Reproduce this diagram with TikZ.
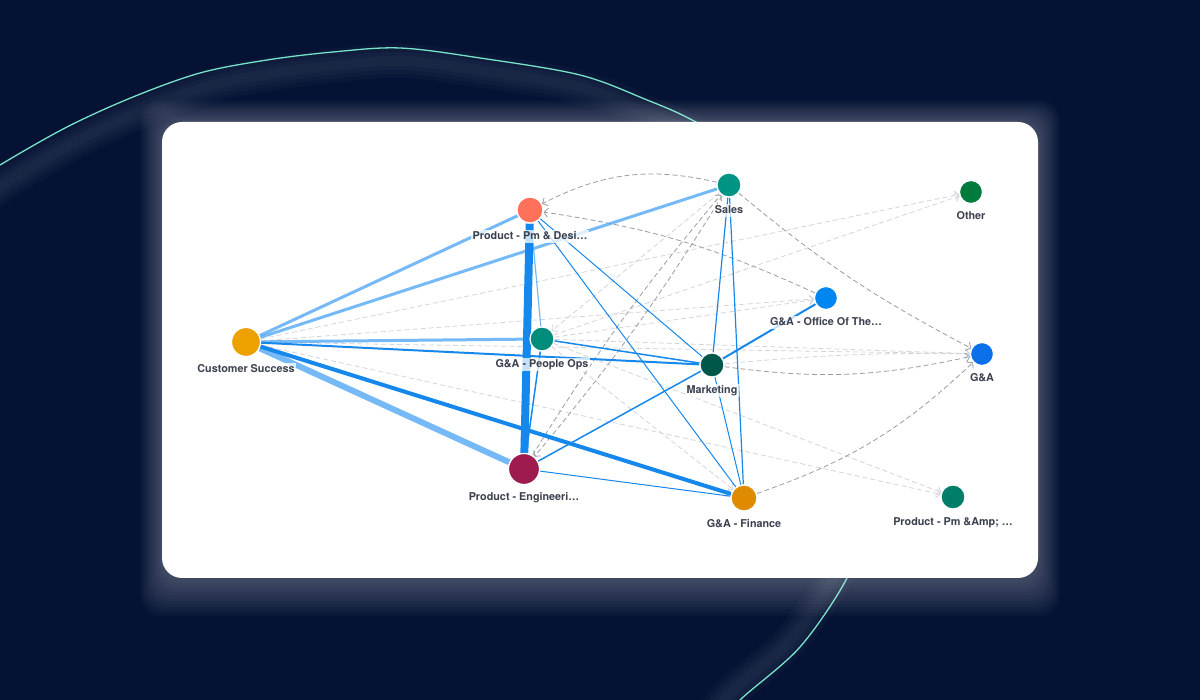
\documentclass[tikz,border=0pt]{standalone}
\usepackage{fontspec}
\setmainfont{TeX Gyre Heros}
\usetikzlibrary{arrows.meta,positioning,calc}

\definecolor{navy}{RGB}{5,18,52}
\definecolor{mint}{RGB}{118,226,200}
\definecolor{tieblue}{RGB}{22,136,235}
\definecolor{softblue}{RGB}{84,168,246}
\definecolor{flowgray}{RGB}{152,157,166}
\definecolor{flowlight}{RGB}{210,213,219}
\definecolor{labelgray}{RGB}{58,64,78}
% team colours
\definecolor{cPmd}{RGB}{255,113,90}
\definecolor{cSales}{RGB}{0,148,133}
\definecolor{cOther}{RGB}{0,122,61}
\definecolor{cOffice}{RGB}{0,134,240}
\definecolor{cGa}{RGB}{10,112,236}
\definecolor{cCs}{RGB}{236,161,0}
\definecolor{cPops}{RGB}{0,141,123}
\definecolor{cMkt}{RGB}{0,86,73}
\definecolor{cEng}{RGB}{158,27,80}
\definecolor{cFin}{RGB}{222,139,0}
\definecolor{cPma}{RGB}{0,126,106}

\newcommand{\swoosh}{plot[smooth,tension=0.55] coordinates {(-30,515) (0,535) (67,573) (133,603) (200,627) (267,640) (333,648) (400,652) (480,642) (580,625) (647,600) (692,580) (760,540) (820,460) (860,350) (870,240) (860,170) (847,122) (800,53) (740,0) (715,-30)}}

\pgfdeclarelayer{bg}
\pgfdeclarelayer{edges}
\pgfsetlayers{bg,edges,main}

\begin{document}
\begin{tikzpicture}[
		x=1pt, y=1pt,
		team/.style={circle, draw=white, line width=1.2pt, inner sep=0pt, minimum size=#1},
		teamlabel/.style={font=\bfseries\fontsize{10.8}{12}\selectfont, text=labelgray,
			fill=white, fill opacity=0.75, text opacity=1, inner sep=1.5pt,
			text height=8pt, text depth=2pt},
		tie/.style={draw=tieblue, line width=#1},
		softtie/.style={draw=softblue, line width=#1, draw opacity=0.8},
		handoff/.style={draw=flowgray, line width=0.8pt, dash pattern=on 5pt off 3pt,
			-{Straight Barb[length=4pt,width=9pt]}},
		faintoff/.style={handoff, draw=flowlight}
		]
		
		\useasboundingbox (0,0) rectangle (1200,700);
		
		% --------------------------------------------------
		% Backdrop
		% --------------------------------------------------
		\begin{pgfonlayer}{bg}
			\fill[navy] (0,0) rectangle (1200,700);
			
			% swoosh with its soft glow
			\begin{scope}[scale around={0.965:(560,280)}]
				\foreach \lw in {34,26,18,10}
				\draw[white, opacity=0.022, line width=\lw pt] \swoosh;
			\end{scope}
			\draw[mint, line width=1.3pt] \swoosh;
			
			% halo round the card
			\foreach \g in {1,...,12}
			\fill[white, opacity=0.024, rounded corners=20pt]
			({162-1.8*\g},{120-3*\g}) rectangle ({1038+1.8*\g},{578+1.8*\g});
			
			% card
			\fill[white, rounded corners=20pt] (162,122) rectangle (1038,578);
		\end{pgfonlayer}
		
		% --------------------------------------------------
		% Teams
		% --------------------------------------------------
		\node[team=26pt, fill=cPmd]    (pmd)    at (530,490) {};
		\node[team=24pt, fill=cSales]  (sales)  at (729,515) {};
		\node[team=23pt, fill=cOther]  (other)  at (971,508) {};
		\node[team=23pt, fill=cOffice] (office) at (826,402) {};
		\node[team=23pt, fill=cGa]     (ga)     at (982,346) {};
		\node[team=29pt, fill=cCs]     (cs)     at (246,358) {};
		\node[team=24pt, fill=cPops]   (pops)   at (542,361) {};
		\node[team=24pt, fill=cMkt]    (mkt)    at (712,335) {};
		\node[team=31pt, fill=cEng]    (eng)    at (524,231) {};
		\node[team=26pt, fill=cFin]    (fin)    at (744,202) {};
		\node[team=24pt, fill=cPma]    (pma)    at (953,203) {};
		
		\node[teamlabel, below=6pt of pmd]    (pmd-l)    {Product - Pm \& Desi…};
		\node[teamlabel, below=6pt of sales]  (sales-l)  {Sales};
		\node[teamlabel, below=6pt of other]  (other-l)  {Other};
		\node[teamlabel, below=6pt of office] (office-l) {G\&A - Office Of The…};
		\node[teamlabel, below=6pt of ga]     (ga-l)     {G\&A};
		\node[teamlabel, below=6pt of cs]     (cs-l)     {Customer Success};
		\node[teamlabel, below=6pt of pops]   (pops-l)   {G\&A - People Ops};
		\node[teamlabel, below=6pt of mkt]    (mkt-l)    {Marketing};
		\node[teamlabel, below=6pt of eng]    (eng-l)    {Product - Engineeri…};
		\node[teamlabel, below=6pt of fin]    (fin-l)    {G\&A - Finance};
		\node[teamlabel, below=6pt of pma]    (pma-l)    {Product - Pm \&Amp; …};
		
		% --------------------------------------------------
		% Links between teams
		% --------------------------------------------------
		\begin{pgfonlayer}{edges}
			% faint dashed flows
			\foreach \a/\b in {cs/other, pops/other, cs/office, pops/office, cs/ga, pops/ga,
				cs/pma, pops/pma, cs/fin, pops/fin, sales/pops}
			\draw[faintoff] (\a) -- (\b);
			\draw[faintoff] (mkt) to[bend left=3] (ga);
			
			% strong dashed flows
			\draw[handoff] (sales) to[bend right=20] (pmd);
			\draw[handoff] (office) to[bend right=8] (pmd);
			\draw[handoff] (sales) to[bend right=6] (ga);
			\draw[handoff] (mkt) to[bend right=10] (ga);
			\draw[handoff] (fin) to[bend right=12] (ga);
			\draw[handoff] (eng) to[bend left=4] (sales);
			\draw[handoff] (sales) to[bend left=4] (eng);
			
			% solid ties
			\foreach \a/\b/\w in {cs/pmd/3, cs/sales/3, cs/pops/3, cs/eng/6, pmd/pops/1.2}
			\draw[softtie=\w] (\a) -- (\b);
			\foreach \a/\b/\w in {pmd/eng/8, cs/fin/4, cs/mkt/2, pmd/mkt/1, pmd/fin/1,
				sales/mkt/1.2, sales/fin/1.2, pops/eng/1.5, pops/mkt/1.5, eng/mkt/1.5,
				eng/fin/1, mkt/office/2, mkt/fin/1}
			\draw[tie=\w] (\a) -- (\b);
		\end{pgfonlayer}
		
	\end{tikzpicture}
\end{document}
